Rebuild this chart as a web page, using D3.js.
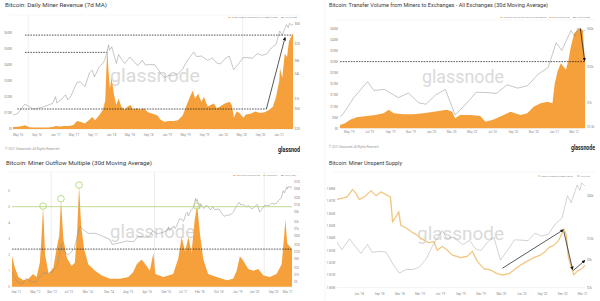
<!DOCTYPE html>
<html>
<head>
<meta charset="utf-8">
<title>Bitcoin miner charts</title>
<script src="https://cdn.jsdelivr.net/npm/d3@7/dist/d3.min.js"></script>
<style>
  body { margin: 0; background: #fff; }
  #chart { display: block; font-family: Roboto, "Open Sans", sans-serif; }
</style>
</head>
<body>
<svg id="chart" width="600" height="301"></svg>
<script>
// BTC price (USD), shared by all four panels
const btcDates = ['2011-07-15','2011-09-15','2011-11-20','2012-01-15','2012-03-15','2012-05-15','2012-08-15','2012-10-15','2012-12-15',
  '2013-02-15','2013-04-10','2013-04-20','2013-07-05','2013-09-15','2013-11-30','2014-01-15','2014-03-15','2014-06-15','2014-09-15',
  '2014-12-15','2015-01-15','2015-04-15','2015-07-15','2015-10-15','2015-12-15','2016-03-15',
  '2016-04-01','2016-05-01','2016-06-17','2016-07-15','2016-08-15','2016-09-15','2016-10-15','2016-11-15','2016-12-15',
  '2017-01-04','2017-01-12','2017-02-15','2017-03-10','2017-03-25','2017-04-15','2017-05-25','2017-06-15','2017-07-15','2017-08-15',
  '2017-09-01','2017-09-15','2017-10-15','2017-11-10','2017-11-25','2017-12-17','2017-12-22','2018-01-06','2018-02-06','2018-02-20',
  '2018-03-15','2018-04-01','2018-05-05','2018-06-25','2018-07-25','2018-08-15','2018-09-15','2018-10-15','2018-11-25','2018-12-15',
  '2019-01-15','2019-02-15','2019-03-15','2019-04-15','2019-05-15','2019-06-26','2019-07-15','2019-08-15','2019-09-26','2019-10-26',
  '2019-11-25','2019-12-17','2020-01-15','2020-02-13','2020-03-13','2020-04-15','2020-05-15','2020-06-15','2020-07-15','2020-08-15',
  '2020-09-15','2020-10-15','2020-11-15','2020-12-15','2021-01-08','2021-01-25','2021-02-21','2021-03-05','2021-03-13','2021-03-28',
  '2021-04-05','2021-04-14','2021-04-25'];
const btcPrices = [14, 5, 4, 7, 5, 5, 12, 11.5, 13.5,
  27, 230, 120, 70, 130, 1150, 850, 600, 600, 450,
  330, 200, 230, 280, 260, 450, 410,
  415, 450, 750, 660, 570, 610, 640, 710, 780,
  1130, 800, 1000, 1250, 950, 1180, 2500, 2500, 1950, 4200,
  4800, 3300, 5600, 7000, 8800, 19000, 14000, 17000, 6900, 11200,
  8200, 6900, 9800, 6100, 8200, 6300, 6500, 6400, 3900, 3200,
  3600, 3600, 3900, 5100, 8000, 12900, 10000, 10300, 8100, 9300,
  7000, 6700, 8800, 10300, 4900, 6800, 9500, 9400, 9200, 11800,
  10700, 11500, 16000, 19400, 40000, 32000, 57000, 48000, 61000, 55000,
  58000, 63000, 50000];

const halvingDates = ['2012-11-28', '2016-07-09', '2020-05-11'];

// Panel 1: daily miner revenue, 7d MA (USD millions)
const revenueDates = ['2016-04-01','2016-05-01','2016-06-01','2016-06-20','2016-07-15','2016-08-15','2016-09-15','2016-10-15','2016-11-15',
  '2016-12-15','2017-01-05','2017-02-01','2017-03-01','2017-04-01','2017-05-01','2017-05-25','2017-06-15','2017-07-15','2017-08-15',
  '2017-09-01','2017-09-20','2017-10-15','2017-11-10','2017-11-25','2017-12-08','2017-12-15','2017-12-25','2018-01-05','2018-01-20',
  '2018-02-05','2018-02-20','2018-03-10','2018-04-01','2018-04-20','2018-05-10','2018-05-25','2018-06-15','2018-07-15','2018-08-01',
  '2018-09-01','2018-10-01','2018-11-01','2018-11-20','2018-12-15','2019-01-15','2019-02-15','2019-03-15','2019-04-15','2019-05-15',
  '2019-06-01','2019-06-20','2019-07-05','2019-07-25','2019-08-15','2019-09-01','2019-09-25','2019-10-15','2019-11-05','2019-11-25',
  '2019-12-15','2020-01-15','2020-02-15','2020-03-01','2020-03-15','2020-04-01','2020-04-20','2020-05-15','2020-06-01','2020-07-01',
  '2020-08-01','2020-09-01','2020-10-01','2020-11-01','2020-11-25','2020-12-15','2021-01-05','2021-01-10','2021-01-25','2021-02-10',
  '2021-02-25','2021-03-10','2021-03-25','2021-04-05'];
const revenueValues = [1.2, 1.4, 1.9, 2.4, 1.1, 0.9, 0.9, 0.9, 1.0,
  1.2, 1.8, 1.5, 1.9, 1.9, 2.5, 5.0, 4.5, 3.5, 6.0,
  7.5, 5.5, 8.5, 12, 18, 51, 38, 25, 32, 22,
  15, 19, 14, 12, 14, 15, 12, 13, 12, 13,
  10.5, 9.5, 8.5, 6, 4.5, 5, 5, 5.5, 8.5, 16,
  20, 24, 19, 22, 17, 20, 14, 15, 16, 13,
  14, 16, 17, 15, 7, 11, 10, 7, 9, 9.5,
  11, 10, 10.5, 12, 14, 20, 30, 38, 32, 47,
  45, 55, 58, 60];
const revenueTickDates = ['2016-05-01','2016-09-01','2017-01-01','2017-05-01','2017-09-01','2018-01-01','2018-05-01','2018-09-01',
  '2019-01-01','2019-05-01','2019-09-01','2020-01-01','2020-05-01','2020-09-01','2021-01-01'];
const revenueTicks = [0, 10, 20, 30, 40, 50, 60];
const revenuePriceTicks = [200, 600, 1000, 4000, 8000, 20000, 60000];
const revenueDashed = [
  { from: '2016-06-18', to: '2021-03-28', value: 58.7 },
  { from: '2016-06-18', to: '2017-12-04', value: 47.9 },
  { from: '2016-04-29', to: '2020-10-13', value: 12.5 }
];
const revenueArrows = [{ from: '2020-10-13', fromValue: 12.5, to: '2021-02-12', toValue: 57.1 }];

// Panel 2: transfer volume from miners to exchanges, 30d MA (USD millions)
const volumeDates = ['2019-04-05','2019-04-20','2019-05-05','2019-05-25','2019-06-24','2019-07-19','2019-08-13','2019-08-28','2019-09-12',
  '2019-10-12','2019-11-10','2019-12-10','2020-01-09','2020-02-18','2020-03-04','2020-03-13','2020-03-28','2020-04-27','2020-05-27',
  '2020-06-11','2020-07-06','2020-08-05','2020-08-25','2020-09-24','2020-10-14','2020-11-03','2020-11-23','2020-12-13','2020-12-28',
  '2021-01-04','2021-01-12','2021-01-22','2021-02-06','2021-02-14','2021-02-21','2021-03-03','2021-03-18','2021-03-28','2021-04-04'];
const volumeValues = [1.5, 2.3, 3.8, 5.0, 5.5, 6.0, 6.8, 8.3, 6.8,
  6.3, 6.3, 6.8, 7.5, 8.3, 7.5, 4.5, 6.0, 6.0, 5.5,
  3.0, 4.0, 6.0, 7.5, 6.0, 6.8, 9.8, 11.3, 12.0, 11.3,
  20.3, 25.5, 29.3, 26.3, 30.8, 36.8, 42.8, 45.0, 44.3, 30.0];
const volumeTickDates = ['2019-05-01','2019-07-01','2019-09-01','2019-11-01','2020-01-01','2020-03-01','2020-05-01','2020-07-01',
  '2020-09-01','2020-11-01','2021-01-01','2021-03-01'];
const volumeTicks = [0, 5, 10, 15, 20, 25, 30, 35, 40, 45];
const volumePriceTicks = [3500, 7000, 20000, 60000];
const volumeDashed = [{ from: '2019-04-05', to: '2021-04-04', value: 30 }];
const volumeArrows = [{ from: '2021-03-21', fromValue: 45, to: '2021-04-03', toValue: 30.5 }];

// Panel 3: miner outflow multiple, 30d MA
const outflowDates = ['2011-07-15','2011-08-20','2011-10-05','2011-12-10','2012-02-10','2012-04-10','2012-05-25','2012-07-05','2012-07-25',
  '2012-08-15','2012-09-10','2012-10-25','2012-12-25','2013-02-05','2013-03-10','2013-04-01','2013-05-01','2013-06-15','2013-08-15',
  '2013-09-25','2013-10-25','2013-11-18','2013-12-15','2014-01-20','2014-03-15','2014-06-10','2014-09-05','2014-12-20','2015-04-25',
  '2015-08-10','2015-10-10','2015-11-25','2016-01-25','2016-04-01','2016-05-10','2016-06-25','2016-07-20','2016-10-30','2017-03-05',
  '2017-05-10','2017-06-20','2017-08-05','2017-09-15','2017-10-25','2017-12-05','2018-01-05','2018-02-10','2018-03-25','2018-05-25',
  '2018-09-10','2019-01-20','2019-04-10','2019-05-25','2019-07-05','2019-08-20','2019-10-20','2019-12-25','2020-02-25','2020-05-01',
  '2020-07-20','2020-10-15','2020-12-20','2021-01-18','2021-02-05','2021-03-01','2021-04-05','2021-05-01'];
const outflowValues = [1.9, 1.2, 0.6, 0.4, 0.5, 0.8, 0.6, 1.5, 3.0,
  5.0, 2.0, 0.8, 1.2, 2.4, 3.2, 5.4, 3.0, 1.8, 1.3,
  1.5, 3.5, 6.3, 3.8, 2.4, 1.4, 1.0, 0.7, 0.5, 0.5,
  0.6, 0.9, 1.4, 1.7, 1.3, 1.0, 2.1, 0.8, 0.6, 0.8,
  1.8, 3.1, 2.2, 3.1, 2.1, 4.2, 5.1, 3.3, 1.7, 0.8,
  0.6, 0.4, 0.5, 1.0, 1.9, 1.6, 1.1, 1.0, 1.1, 0.7,
  0.6, 0.8, 1.4, 3.0, 4.2, 2.7, 2.5, 2.3];
const outflowTickDates = ['2011-09-01','2012-05-01','2012-12-01','2013-07-01','2014-03-01','2014-12-01','2015-08-01','2016-04-01',
  '2016-12-01','2017-07-01','2018-02-01','2018-10-01','2019-06-01','2020-01-01','2020-09-01','2021-03-01'];
const outflowTicks = [0, 1, 2, 3, 4, 5, 6];
const outflowPriceTicks = [5, 10, 20, 50, 100, 200, 500, 1000, 2000, 5000, 10000, 20000, 50000, 100000];
const outflowThreshold = [{ from: '2011-07-15', to: '2021-05-01', value: 5 }];
const outflowDashed = [{ from: '2011-07-15', to: '2021-05-01', value: 2.35 }];
const outflowCircleDates = ['2012-08-15', '2013-04-01', '2013-11-18', '2018-01-01'];
const outflowCircleValues = [5.04, 5.5, 6.35, 5.04];

// Panel 4: miner unspent supply (BTC millions)
const supplyDates = ['2018-03-10','2018-04-02','2018-04-24','2018-05-19','2018-06-03','2018-06-18','2018-07-10','2018-08-10','2018-09-01',
  '2018-09-24','2018-10-16','2018-11-05','2018-11-15','2018-11-30','2018-12-12','2018-12-22','2019-01-14','2019-02-06','2019-03-06',
  '2019-04-05','2019-04-27','2019-05-19','2019-06-03','2019-06-26','2019-07-18','2019-08-10','2019-09-17','2019-10-16','2019-11-08',
  '2019-11-30','2019-12-30','2020-01-29','2020-02-28','2020-03-22','2020-04-21','2020-05-20','2020-06-12','2020-07-11','2020-08-10',
  '2020-09-09','2020-10-01','2020-10-16','2020-11-08','2020-11-30','2020-12-23','2021-01-03','2021-01-12','2021-01-22','2021-02-06',
  '2021-02-21','2021-03-14','2021-03-28'];
const supplyValues = [1.871, 1.872, 1.873, 1.879, 1.876, 1.871, 1.873, 1.878, 1.874,
  1.877, 1.875, 1.873, 1.853, 1.857, 1.861, 1.850, 1.848, 1.845, 1.842,
  1.838, 1.836, 1.837, 1.830, 1.833, 1.830, 1.826, 1.824, 1.825, 1.829,
  1.821, 1.815, 1.814, 1.811, 1.810, 1.811, 1.815, 1.818, 1.821, 1.824,
  1.826, 1.829, 1.832, 1.834, 1.838, 1.847, 1.842, 1.825, 1.818, 1.810,
  1.813, 1.815, 1.818];
const supplyTickDates = ['2018-06-15','2018-09-15','2018-12-15','2019-03-15','2019-06-15','2019-09-15','2019-12-15','2020-03-15',
  '2020-06-15','2020-09-15','2020-12-15','2021-03-15'];
const supplyTicks = [1.80, 1.81, 1.82, 1.83, 1.84, 1.85, 1.86, 1.87, 1.88];
const supplyPriceTicks = [2000, 5000, 10000, 40000];
const supplyArrows = [
  { from: '2020-03-22', fromValue: 1.8154, to: '2020-12-20', toValue: 1.8464 },
  { from: '2020-12-23', fromValue: 1.8450, to: '2021-01-31', toValue: 1.8145 },
  { from: '2021-02-03', fromValue: 1.8135, to: '2021-03-27', toValue: 1.8216 }
];

// ---------- drawing ----------
const parse = d3.timeParse('%Y-%m-%d');
const monthFmt = d3.timeFormat("%b '%y");
const ORANGE = '#f5a03a';
const PRICE = '#8e8e8e';

const svg = d3.select('#chart');
const defs = svg.append('defs');

defs.append('marker')
    .attr('id', 'arrowhead')
    .attr('viewBox', '0 0 10 10')
    .attr('refX', 8).attr('refY', 5)
    .attr('markerWidth', 5).attr('markerHeight', 5)
    .attr('orient', 'auto')
    .append('path')
    .attr('d', 'M0,0L10,5L0,10z')
    .attr('fill', '#111');

// faint split between the two columns
svg.append('line')
    .attr('x1', 325).attr('x2', 325).attr('y1', 0).attr('y2', 301)
    .attr('stroke', '#efefef').attr('stroke-width', 0.6);

function usd(v) {
    if (v >= 1000) return '$' + (v / 1000) + 'k';
    return '$' + v;
}

let clipCount = 0;
function addClip(x, y, w, h) {
    const id = 'clip' + (clipCount++);
    defs.append('clipPath').attr('id', id)
        .append('rect').attr('x', x).attr('y', y).attr('width', w).attr('height', h);
    return 'url(#' + id + ')';
}

function styleAxis(sel, size) {
    sel.attr('font-size', null).attr('font-family', null);
    sel.select('.domain').remove();
    sel.selectAll('text').attr('font-size', size).attr('fill', '#8a8a8a');
}

function drawPanel(p) {
    const g = svg.append('g').attr('clip-path', addClip(p.box[0], p.box[1], p.box[2], p.box[3]));

    const x = d3.scaleTime().domain(p.xDomain.map(parse)).range(p.xRange);
    const y = d3.scaleLinear().domain(p.yDomain).range(p.yRange);
    const yPrice = d3.scaleLog().domain(p.priceDomain).range(p.priceRange);

    // title
    g.append('text')
        .attr('x', p.titleX).attr('y', p.titleY)
        .attr('font-size', p.titleSize).attr('fill', '#3a3a3a')
        .attr('textLength', p.titleWidth).attr('lengthAdjust', 'spacingAndGlyphs')
        .text(p.title);

    // plot frame top and baseline
    g.append('line')
        .attr('x1', p.xRange[0] - 4).attr('x2', p.xRange[1] + 10)
        .attr('y1', p.clipTop).attr('y2', p.clipTop)
        .attr('stroke', '#ececec').attr('stroke-width', 0.5);
    g.append('line')
        .attr('x1', p.xRange[0]).attr('x2', p.xRange[1])
        .attr('y1', p.yRange[0] + 0.3).attr('y2', p.yRange[0] + 0.3)
        .attr('stroke', '#e6e6e6').attr('stroke-width', 0.5);

    // watermark
    g.append('text')
        .attr('x', p.mark[0]).attr('y', p.mark[1])
        .attr('font-size', 19).attr('fill', '#dadada')
        .attr('textLength', p.mark[2]).attr('lengthAdjust', 'spacingAndGlyphs')
        .text('glassnode');

    const plot = g.append('g')
        .attr('clip-path', addClip(p.xRange[0], p.clipTop, p.xRange[1] - p.xRange[0], p.yRange[0] - p.clipTop + 0.5));

    if (p.halvings) {
        plot.selectAll('line.halving')
            .data(halvingDates.map(parse))
            .enter().append('line')
            .attr('class', 'halving')
            .attr('x1', d => x(d)).attr('x2', d => x(d))
            .attr('y1', p.clipTop).attr('y2', p.yRange[0])
            .attr('stroke', '#e0e0e0').attr('stroke-width', 0.6);
    }

    const series = p.dates.map((d, i) => ({ date: parse(d), value: p.values[i] }));
    if (p.kind === 'area') {
        plot.append('path')
            .datum(series)
            .attr('fill', ORANGE)
            .attr('d', d3.area().x(d => x(d.date)).y0(y(0)).y1(d => y(d.value)));
    } else {
        const line = d3.line().x(d => x(d.date)).y(d => y(d.value));
        plot.append('path').datum(series)
            .attr('fill', 'none').attr('stroke', '#f9e6c0').attr('stroke-width', 1.6)
            .attr('d', line);
        plot.append('path').datum(series)
            .attr('fill', 'none').attr('stroke', '#e9aa4c').attr('stroke-width', 0.6)
            .attr('d', line);
    }

    // price line
    const prices = btcDates.map((d, i) => ({ date: parse(d), value: btcPrices[i] }));
    plot.append('path')
        .datum(prices)
        .attr('fill', 'none')
        .attr('stroke', p.priceColor || PRICE)
        .attr('stroke-width', 0.5)
        .attr('d', d3.line().x(d => x(d.date)).y(d => yPrice(d.value)));

    // solid threshold lines
    (p.threshold || []).forEach(t => {
        plot.append('line')
            .attr('x1', x(parse(t.from))).attr('x2', x(parse(t.to)))
            .attr('y1', y(t.value)).attr('y2', y(t.value))
            .attr('stroke', '#b3cf72').attr('stroke-width', 0.8);
    });

    // dashed levels
    (p.dashed || []).forEach(t => {
        g.append('line')
            .attr('x1', x(parse(t.from))).attr('x2', x(parse(t.to)))
            .attr('y1', y(t.value)).attr('y2', y(t.value))
            .attr('stroke', '#111').attr('stroke-width', 0.7)
            .attr('stroke-dasharray', '1.6,1.1');
    });

    // circled peaks
    if (p.circleDates) {
        g.selectAll('circle.peak')
            .data(p.circleDates.map((d, i) => ({ date: parse(d), value: p.circleValues[i] })))
            .enter().append('circle')
            .attr('class', 'peak')
            .attr('cx', d => x(d.date)).attr('cy', d => y(d.value))
            .attr('r', 3.3)
            .attr('fill', 'none').attr('stroke', '#a5d66a').attr('stroke-width', 0.8);
    }

    // arrows
    (p.arrows || []).forEach(a => {
        g.append('line')
            .attr('x1', x(parse(a.from))).attr('y1', y(a.fromValue))
            .attr('x2', x(parse(a.to))).attr('y2', y(a.toValue))
            .attr('stroke', '#111').attr('stroke-width', 0.7)
            .attr('marker-end', 'url(#arrowhead)');
    });

    // axes
    g.append('g')
        .attr('transform', 'translate(0,' + p.xLabelY + ')')
        .call(d3.axisBottom(x).tickValues(p.xTicks.map(parse)).tickFormat(monthFmt).tickSize(0).tickPadding(0))
        .call(a => styleAxis(a, 3))
        .selectAll('text').attr('y', 0).attr('dy', '0.35em');

    g.append('g')
        .attr('transform', 'translate(' + p.yLabelX + ',0)')
        .call(d3.axisLeft(y).tickValues(p.yTicks).tickFormat(p.yFormat).tickSize(0).tickPadding(0))
        .call(a => styleAxis(a, 3));

    g.append('g')
        .attr('transform', 'translate(' + p.priceLabelX + ',0)')
        .call(d3.axisRight(yPrice).tickValues(p.priceTicks).tickFormat(usd).tickSize(0).tickPadding(0))
        .call(a => styleAxis(a, 3));

    // legend: font shrinks so each label fits its slot
    p.legend.forEach(item => {
        const w = item.x1 - item.x0 - 3.5;
        const size = Math.min(2.4, w / (0.52 * item.label.length));
        g.append('line')
            .attr('x1', item.x0).attr('x2', item.x0 + 2.5)
            .attr('y1', p.legendY).attr('y2', p.legendY)
            .attr('stroke', item.color).attr('stroke-width', 0.7);
        g.append('text')
            .attr('x', item.x0 + 3.5).attr('y', p.legendY).attr('dy', '0.35em')
            .attr('font-size', size).attr('fill', '#8a8a8a')
            .attr('textLength', w).attr('lengthAdjust', 'spacingAndGlyphs')
            .text(item.label);
    });

    // footer
    if (p.footer) {
        g.append('text')
            .attr('x', p.footer[0]).attr('y', p.footer[1]).attr('dy', '0.35em')
            .attr('font-size', 2.6).attr('fill', '#9a9a9a')
            .attr('textLength', p.footer[2]).attr('lengthAdjust', 'spacingAndGlyphs')
            .text('\u00a9 2021 Glassnode. All Rights Reserved.');
        g.append('text')
            .attr('x', p.logo[0]).attr('y', p.logo[1])
            .attr('font-size', 6.5).attr('font-weight', 700).attr('fill', '#1a1a1a')
            .attr('textLength', p.logo[2]).attr('lengthAdjust', 'spacingAndGlyphs')
            .text('glassnode');
    }
}

drawPanel({
    box: [0, 0, 300, 155],
    title: 'Bitcoin: Daily Miner Revenue (7d MA)', titleX: 5, titleY: 7, titleSize: 5.2, titleWidth: 102,
    xDomain: ['2016-04-01', '2021-04-05'], xRange: [13, 293],
    yDomain: [0, 60], yRange: [129, 33],
    priceDomain: [195, 86000], priceRange: [129, 17],
    clipTop: 15, xLabelY: 135, yLabelX: 12, priceLabelX: 294.5,
    kind: 'area', dates: revenueDates, values: revenueValues,
    xTicks: revenueTickDates, yTicks: revenueTicks, yFormat: v => v ? '$' + v + 'M' : '$0',
    priceTicks: revenuePriceTicks,
    dashed: revenueDashed, arrows: revenueArrows, halvings: true,
    legendY: 17.5,
    legend: [
        { label: 'Total Miner Revenue [7d MA] (USD)', color: ORANGE, x0: 228, x1: 278 },
        { label: 'Price [USD]', color: PRICE, x0: 281, x1: 297 }
    ],
    mark: [110, 82, 90],
    footer: [5, 149.5, 55], logo: [278, 151.5, 25]
});

drawPanel({
    box: [300, 0, 300, 155],
    title: 'Bitcoin: Transfer Volume from Miners to Exchanges - All Exchanges (30d Moving Average)',
    titleX: 329, titleY: 7, titleSize: 4.8, titleWidth: 219,
    xDomain: ['2019-04-05', '2021-04-04'], xRange: [340, 585],
    yDomain: [0, 45], yRange: [128.3, 28.3],
    priceDomain: [3330, 60900], priceRange: [128.3, 28.3],
    clipTop: 20, xLabelY: 132, yLabelX: 338, priceLabelX: 587,
    kind: 'area', dates: volumeDates, values: volumeValues,
    xTicks: volumeTickDates, yTicks: volumeTicks, yFormat: v => v ? '$' + v + 'M' : '$0',
    priceTicks: volumePriceTicks,
    dashed: volumeDashed, arrows: volumeArrows, halvings: false,
    legendY: 17.5,
    legend: [
        { label: 'Transfer Volume from Miners to Exchanges', color: ORANGE, x0: 500, x1: 547 },
        { label: 'All Exchanges [USD]', color: ORANGE, x0: 549, x1: 570 },
        { label: 'Price [USD]', color: PRICE, x0: 573, x1: 590 }
    ],
    mark: [422, 83, 82],
    footer: [329, 147.5, 50], logo: [571, 149.5, 24]
});

drawPanel({
    box: [0, 155, 300, 146],
    title: 'Bitcoin: Miner Outflow Multiple (30d Moving Average)', titleX: 6, titleY: 165, titleSize: 5.2, titleWidth: 146,
    xDomain: ['2011-07-15', '2021-05-01'], xRange: [12, 292],
    yDomain: [0, 6], yRange: [286.7, 190.7],
    priceDomain: [3.09, 189500], priceRange: [286.7, 175],
    clipTop: 172, xLabelY: 292, yLabelX: 10, priceLabelX: 294,
    kind: 'area', dates: outflowDates, values: outflowValues,
    xTicks: outflowTickDates, yTicks: outflowTicks, yFormat: v => String(v),
    priceTicks: outflowPriceTicks,
    threshold: outflowThreshold, dashed: outflowDashed, halvings: true,
    circleDates: outflowCircleDates, circleValues: outflowCircleValues,
    legendY: 175.5,
    legend: [
        { label: 'Miner Outflow Multiple [30d MA]', color: ORANGE, x0: 233, x1: 260 },
        { label: 'Threshold', color: '#b3cf72', x0: 263, x1: 277 },
        { label: 'Price [USD]', color: PRICE, x0: 281, x1: 296 }
    ],
    mark: [110, 238, 85]
});

drawPanel({
    box: [300, 155, 300, 146],
    title: 'Bitcoin: Miner Unspent Supply', titleX: 329, titleY: 165, titleSize: 4.8, titleWidth: 73,
    xDomain: ['2018-03-10', '2021-03-28'], xRange: [337, 585],
    yDomain: [1.80, 1.88], yRange: [287.3, 188.3],
    priceDomain: [1966, 79000], priceRange: [288, 175],
    clipTop: 172, xLabelY: 294, yLabelX: 335, priceLabelX: 587,
    kind: 'line', dates: supplyDates, values: supplyValues,
    xTicks: supplyTickDates, yTicks: supplyTicks, yFormat: v => v.toFixed(2) + 'M',
    priceTicks: supplyPriceTicks, priceColor: '#a6a6a6',
    arrows: supplyArrows, halvings: false,
    legendY: 176,
    legend: [
        { label: 'Miner Unspent Supply [BTC]', color: '#e9a540', x0: 538, x1: 573 },
        { label: 'Price [USD]', color: PRICE, x0: 577, x1: 590 }
    ],
    mark: [417, 240, 87]
});
</script>
</body>
</html>
